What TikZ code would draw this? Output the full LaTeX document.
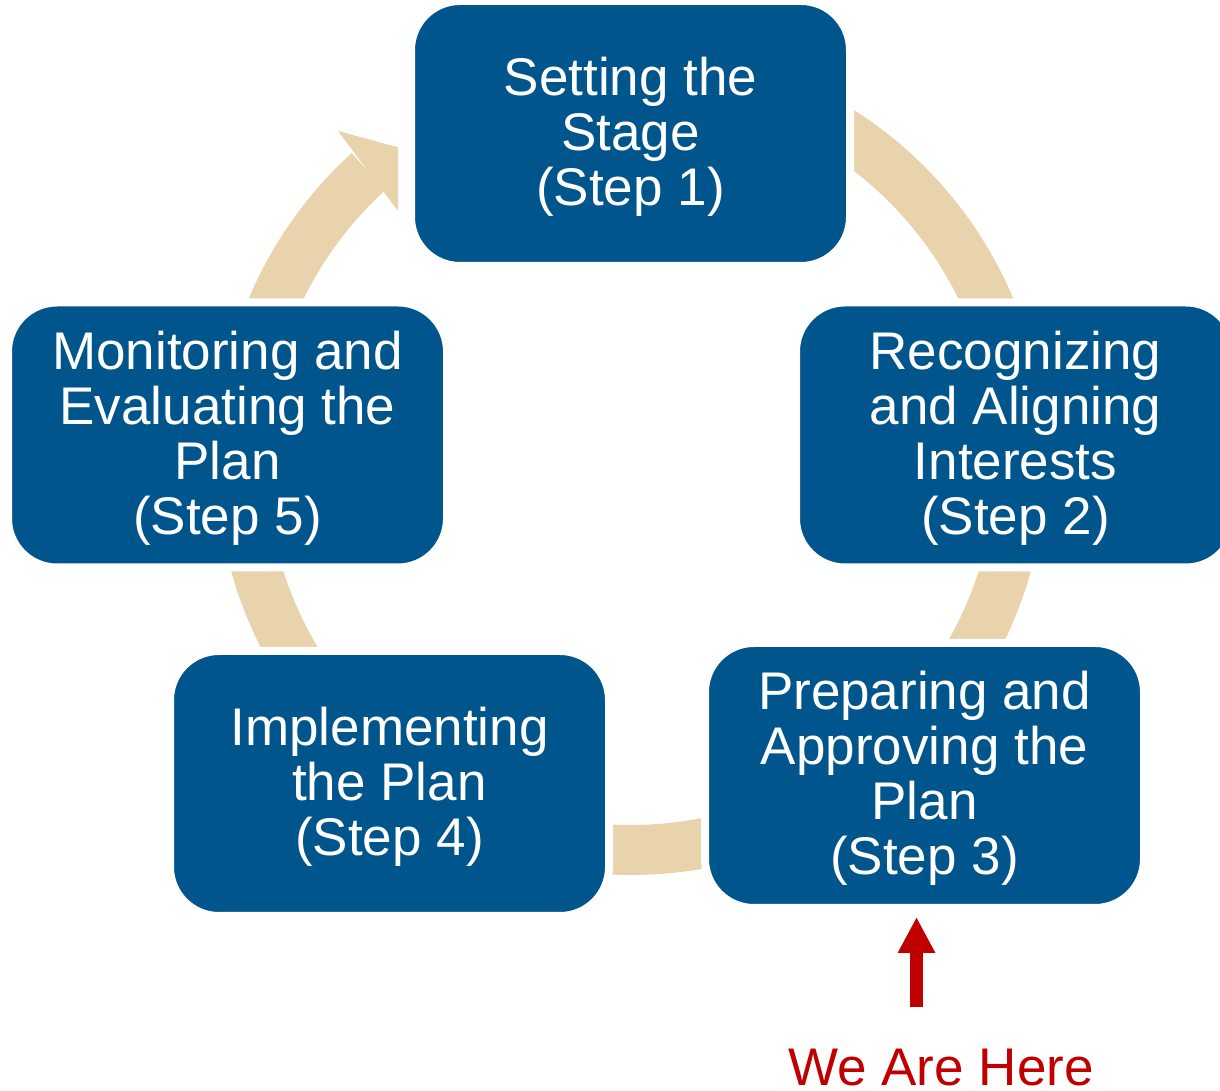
\documentclass[tikz,border=0pt]{standalone}
\usepackage{xcolor}
\usepackage{fontspec}
\setmainfont{Liberation Sans}
\usetikzlibrary{arrows.meta}
\definecolor{stepblue}{RGB}{0,86,140}
\definecolor{ringtan}{RGB}{232,211,172}
\definecolor{herered}{RGB}{192,0,0}

\begin{document}
\begin{tikzpicture}[x=0.5pt, y=0.5pt,
  stepbox/.style={fill=stepblue, draw=white, line width=4pt, rounded corners=24.5pt,
    minimum width=219.5pt, minimum height=132.5pt, inner sep=0pt, text=white,
    align=center, text depth=2.5pt, font=\fontsize{26.5}{27.5}\selectfont},
  ringband/.style={draw=ringtan, line width=25pt},
  herearrow/.style={draw=herered, line width=6.5pt, -{Triangle[length=18pt, width=17.5pt]}}]
\useasboundingbox (0,0) rectangle (1220,1091);
\coordinate (hub) at (631,631);

\draw[ringband] (hub) ++(62:390) arc[start angle=62, end angle=18, radius=390];
\draw[ringband] (hub) ++(-10:390) arc[start angle=-10, end angle=-35, radius=390];
\draw[ringband] (hub) ++(-70:390) arc[start angle=-70, end angle=-100, radius=390];
\draw[ringband] (hub) ++(215:390) arc[start angle=215, end angle=190, radius=390];
\begin{scope}
\clip (0,0) rectangle (398,1091);
\draw[ringband] (hub) ++(160:390) arc[start angle=160, end angle=132.3, radius=390];
\fill[ringtan] (338,960) -- (430,935) -- (401,876) -- cycle;
\end{scope}

\node[stepbox] (setstage) at (630.5,957.5) {Setting the\\Stage\\(Step 1)};
\node[stepbox] (aligning) at (1015.5,656) {Recognizing\\and Aligning\\Interests\\(Step 2)};
\node[stepbox] (preparing) at (924.5,315.5) {Preparing and\\Approving the\\Plan\\(Step 3)};
\node[stepbox] (implementing) at (389.5,307.5) {Implementing\\the Plan\\(Step 4)};
\node[stepbox] (monitoring) at (227.5,656) {Monitoring and\\Evaluating the\\Plan\\(Step 5)};

\coordinate (tail) at (916.5,84);
\coordinate (tip) at (916.5,174);
\draw[herearrow] (tail) -- (tip);
\node[anchor=base, inner sep=0pt, text=herered, font=\fontsize{26.5}{27.5}\selectfont] (here) at (941,5) {We Are Here};
\end{tikzpicture}
\end{document}
